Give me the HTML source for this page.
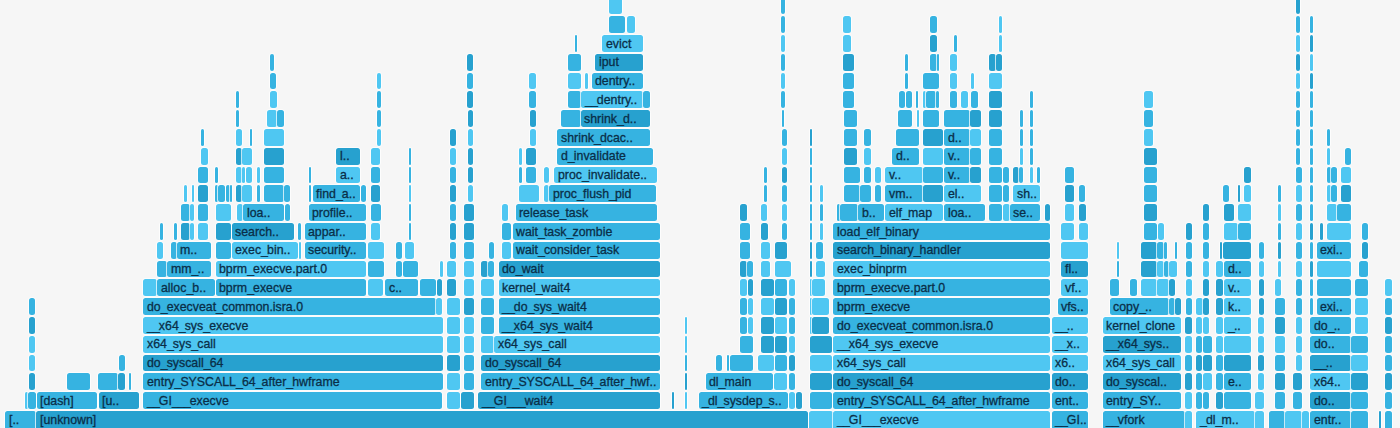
<!DOCTYPE html><html><head><meta charset="utf-8"><style>
html,body{margin:0;padding:0;}body{width:1400px;height:428px;overflow:hidden;background:#f6f6f6;position:relative;font-family:"Liberation Sans",sans-serif;}
.b{position:absolute;height:16.8px;border-radius:2.5px;overflow:hidden;white-space:nowrap;box-sizing:border-box;box-shadow:0 0 0 0.8px rgba(255,255,255,0.9);}
.t{position:absolute;left:3.5px;top:0.5px;line-height:16.8px;font-size:13px;color:#0a2e48;transform:scaleX(0.95);transform-origin:0 0;-webkit-text-stroke:0.3px #0a2e48;}
i{font-style:normal;letter-spacing:-1.0px}.L{background:#4fc7f2}.M{background:#36b3e1}.D{background:#27a1cf}
</style></head><body>
<div class="b M" style="left:5.0px;top:411.0px;width:31.0px;height:20px"><span class="t">[..</span></div>
<div class="b D" style="left:36.0px;top:411.0px;width:772.0px;height:20px"><span class="t">[unknown]</span></div>
<div class="b L" style="left:809.0px;top:411.0px;width:24.0px;height:20px"></div>
<div class="b L" style="left:833.0px;top:411.0px;width:217.0px;height:20px"><span class="t"><i>_</i><i>_</i>GI<i>_</i><i>_</i><i>_</i>execve</span></div>
<div class="b M" style="left:1051.7px;top:411.0px;width:36.3px;height:20px"><span class="t"><i>_</i><i>_</i>GI..</span></div>
<div class="b M" style="left:1102.7px;top:411.0px;width:82.7px;height:20px"><span class="t"><i>_</i><i>_</i>vfork</span></div>
<div class="b L" style="left:1185.4px;top:411.0px;width:6.3px;height:20px"></div>
<div class="b L" style="left:1196.0px;top:411.0px;width:58.6px;height:20px"><span class="t"><i>_</i>dl<i>_</i>m..</span></div>
<div class="b L" style="left:1254.6px;top:411.0px;width:9.4px;height:20px"></div>
<div class="b M" style="left:1268.6px;top:411.0px;width:16.4px;height:20px"></div>
<div class="b L" style="left:1285.0px;top:411.0px;width:17.0px;height:20px"></div>
<div class="b L" style="left:1302.0px;top:411.0px;width:7.0px;height:20px"></div>
<div class="b M" style="left:1310.0px;top:411.0px;width:41.0px;height:20px"><span class="t">entr..</span></div>
<div class="b M" style="left:1351.0px;top:411.0px;width:16.7px;height:20px"></div>
<div class="b D" style="left:1378.8px;top:411.0px;width:2.2px;height:20px"></div>
<div class="b M" style="left:1385.4px;top:411.0px;width:6.6px;height:20px"></div>
<div class="b L" style="left:25.4px;top:392.2px;width:2.6px"></div>
<div class="b M" style="left:28.0px;top:392.2px;width:7.8px"></div>
<div class="b M" style="left:36.6px;top:392.2px;width:60.7px"><span class="t">[dash]</span></div>
<div class="b D" style="left:98.9px;top:392.2px;width:39.7px"><span class="t">[u..</span></div>
<div class="b M" style="left:143.1px;top:392.2px;width:299.4px"><span class="t"><i>_</i><i>_</i>GI<i>_</i><i>_</i><i>_</i>execve</span></div>
<div class="b L" style="left:446.7px;top:392.2px;width:13.1px"></div>
<div class="b D" style="left:460.8px;top:392.2px;width:13.2px"></div>
<div class="b D" style="left:478.0px;top:392.2px;width:182.4px"><span class="t"><i>_</i><i>_</i>GI<i>_</i><i>_</i><i>_</i>wait4</span></div>
<div class="b D" style="left:671.7px;top:392.2px;width:2.6px"></div>
<div class="b L" style="left:684.7px;top:392.2px;width:2.6px"></div>
<div class="b M" style="left:698.8px;top:392.2px;width:89.0px"><span class="t"><i>_</i>dl<i>_</i>sysdep<i>_</i>s..</span></div>
<div class="b L" style="left:789.0px;top:392.2px;width:6.0px"></div>
<div class="b D" style="left:795.6px;top:392.2px;width:6.0px"></div>
<div class="b M" style="left:809.5px;top:392.2px;width:22.2px"></div>
<div class="b M" style="left:833.0px;top:392.2px;width:217.0px"><span class="t">entry<i>_</i>SYSCALL<i>_</i>64<i>_</i>after<i>_</i>hwframe</span></div>
<div class="b M" style="left:1051.7px;top:392.2px;width:36.3px"><span class="t">ent..</span></div>
<div class="b M" style="left:1102.7px;top:392.2px;width:78.3px"><span class="t">entry<i>_</i>SY..</span></div>
<div class="b L" style="left:1185.0px;top:392.2px;width:7.0px"></div>
<div class="b M" style="left:1196.0px;top:392.2px;width:5.8px"></div>
<div class="b M" style="left:1203.0px;top:392.2px;width:6.0px"></div>
<div class="b D" style="left:1216.0px;top:392.2px;width:7.0px"></div>
<div class="b M" style="left:1224.0px;top:392.2px;width:26.7px"></div>
<div class="b L" style="left:1254.6px;top:392.2px;width:9.4px"></div>
<div class="b M" style="left:1275.0px;top:392.2px;width:10.0px"></div>
<div class="b M" style="left:1293.0px;top:392.2px;width:9.0px"></div>
<div class="b D" style="left:1310.0px;top:392.2px;width:41.0px"><span class="t">do..</span></div>
<div class="b M" style="left:1351.0px;top:392.2px;width:16.7px"></div>
<div class="b M" style="left:1385.4px;top:392.2px;width:6.6px"></div>
<div class="b D" style="left:28.8px;top:373.4px;width:6.5px"></div>
<div class="b M" style="left:67.0px;top:373.4px;width:23.2px"></div>
<div class="b M" style="left:97.6px;top:373.4px;width:20.6px"></div>
<div class="b D" style="left:118.2px;top:373.4px;width:6.8px"></div>
<div class="b M" style="left:128.7px;top:373.4px;width:2.6px"></div>
<div class="b M" style="left:143.0px;top:373.4px;width:299.5px"><span class="t">entry<i>_</i>SYSCALL<i>_</i>64<i>_</i>after<i>_</i>hwframe</span></div>
<div class="b L" style="left:447.0px;top:373.4px;width:13.0px"></div>
<div class="b M" style="left:463.7px;top:373.4px;width:10.3px"></div>
<div class="b M" style="left:481.0px;top:373.4px;width:179.4px"><span class="t">entry<i>_</i>SYSCALL<i>_</i>64<i>_</i>after<i>_</i>hwf..</span></div>
<div class="b D" style="left:684.7px;top:373.4px;width:2.6px"></div>
<div class="b M" style="left:705.6px;top:373.4px;width:67.3px"><span class="t">dl<i>_</i>main</span></div>
<div class="b L" style="left:774.0px;top:373.4px;width:13.0px"></div>
<div class="b M" style="left:788.5px;top:373.4px;width:6.1px"></div>
<div class="b D" style="left:809.5px;top:373.4px;width:22.2px"></div>
<div class="b D" style="left:833.0px;top:373.4px;width:217.0px"><span class="t">do<i>_</i>syscall<i>_</i>64</span></div>
<div class="b D" style="left:1051.7px;top:373.4px;width:36.3px"><span class="t">do..</span></div>
<div class="b D" style="left:1102.7px;top:373.4px;width:78.3px"><span class="t">do<i>_</i>syscal..</span></div>
<div class="b D" style="left:1185.4px;top:373.4px;width:6.3px"></div>
<div class="b M" style="left:1196.0px;top:373.4px;width:5.8px"></div>
<div class="b L" style="left:1203.0px;top:373.4px;width:9.0px"></div>
<div class="b M" style="left:1216.0px;top:373.4px;width:7.0px"></div>
<div class="b M" style="left:1224.0px;top:373.4px;width:26.7px"><span class="t">e..</span></div>
<div class="b L" style="left:1258.0px;top:373.4px;width:6.0px"></div>
<div class="b D" style="left:1275.0px;top:373.4px;width:10.0px"></div>
<div class="b D" style="left:1293.0px;top:373.4px;width:9.0px"></div>
<div class="b L" style="left:1310.0px;top:373.4px;width:41.0px"><span class="t">x64..</span></div>
<div class="b D" style="left:1351.0px;top:373.4px;width:16.7px"></div>
<div class="b D" style="left:1385.4px;top:373.4px;width:6.6px"></div>
<div class="b L" style="left:28.8px;top:354.6px;width:6.5px"></div>
<div class="b M" style="left:119.0px;top:354.6px;width:6.0px"></div>
<div class="b D" style="left:143.0px;top:354.6px;width:299.5px"><span class="t">do<i>_</i>syscall<i>_</i>64</span></div>
<div class="b D" style="left:447.0px;top:354.6px;width:13.0px"></div>
<div class="b M" style="left:463.7px;top:354.6px;width:10.3px"></div>
<div class="b D" style="left:481.0px;top:354.6px;width:179.4px"><span class="t">do<i>_</i>syscall<i>_</i>64</span></div>
<div class="b M" style="left:684.7px;top:354.6px;width:2.6px"></div>
<div class="b M" style="left:716.0px;top:354.6px;width:6.4px"></div>
<div class="b M" style="left:726.6px;top:354.6px;width:2.4px"></div>
<div class="b M" style="left:729.7px;top:354.6px;width:23.5px"></div>
<div class="b L" style="left:757.7px;top:354.6px;width:16.3px"></div>
<div class="b M" style="left:774.7px;top:354.6px;width:12.5px"></div>
<div class="b D" style="left:788.5px;top:354.6px;width:6.1px"></div>
<div class="b L" style="left:809.5px;top:354.6px;width:22.2px"></div>
<div class="b L" style="left:833.0px;top:354.6px;width:217.0px"><span class="t">x64<i>_</i>sys<i>_</i>call</span></div>
<div class="b L" style="left:1051.7px;top:354.6px;width:36.3px"><span class="t">x6..</span></div>
<div class="b L" style="left:1102.7px;top:354.6px;width:78.3px"><span class="t">x64<i>_</i>sys<i>_</i>call</span></div>
<div class="b M" style="left:1185.4px;top:354.6px;width:6.3px"></div>
<div class="b D" style="left:1196.0px;top:354.6px;width:5.8px"></div>
<div class="b D" style="left:1203.0px;top:354.6px;width:9.0px"></div>
<div class="b M" style="left:1216.0px;top:354.6px;width:7.0px"></div>
<div class="b D" style="left:1224.0px;top:354.6px;width:26.7px"></div>
<div class="b D" style="left:1258.0px;top:354.6px;width:6.0px"></div>
<div class="b M" style="left:1275.0px;top:354.6px;width:10.0px"></div>
<div class="b L" style="left:1296.4px;top:354.6px;width:5.6px"></div>
<div class="b D" style="left:1310.0px;top:354.6px;width:41.0px"><span class="t"><i>_</i><i>_</i>..</span></div>
<div class="b L" style="left:1351.0px;top:354.6px;width:16.7px"></div>
<div class="b M" style="left:1385.4px;top:354.6px;width:6.6px"></div>
<div class="b L" style="left:28.8px;top:335.8px;width:6.5px"></div>
<div class="b L" style="left:143.0px;top:335.8px;width:299.5px"><span class="t">x64<i>_</i>sys<i>_</i>call</span></div>
<div class="b L" style="left:447.0px;top:335.8px;width:13.0px"></div>
<div class="b L" style="left:463.7px;top:335.8px;width:10.3px"></div>
<div class="b L" style="left:481.0px;top:335.8px;width:13.3px"></div>
<div class="b L" style="left:494.3px;top:335.8px;width:166.1px"><span class="t">x64<i>_</i>sys<i>_</i>call</span></div>
<div class="b L" style="left:684.7px;top:335.8px;width:2.6px"></div>
<div class="b M" style="left:740.0px;top:335.8px;width:13.0px"></div>
<div class="b D" style="left:760.6px;top:335.8px;width:13.4px"></div>
<div class="b D" style="left:774.7px;top:335.8px;width:12.3px"></div>
<div class="b L" style="left:788.5px;top:335.8px;width:6.1px"></div>
<div class="b D" style="left:809.5px;top:335.8px;width:22.2px"></div>
<div class="b L" style="left:833.0px;top:335.8px;width:217.0px"><span class="t"><i>_</i><i>_</i>x64<i>_</i>sys<i>_</i>execve</span></div>
<div class="b L" style="left:1051.7px;top:335.8px;width:36.3px"><span class="t"><i>_</i><i>_</i>x..</span></div>
<div class="b D" style="left:1102.7px;top:335.8px;width:78.3px"><span class="t"><i>_</i><i>_</i>x64<i>_</i>sys..</span></div>
<div class="b L" style="left:1185.4px;top:335.8px;width:6.3px"></div>
<div class="b M" style="left:1196.0px;top:335.8px;width:5.8px"></div>
<div class="b M" style="left:1203.0px;top:335.8px;width:9.0px"></div>
<div class="b L" style="left:1216.0px;top:335.8px;width:7.0px"></div>
<div class="b L" style="left:1224.0px;top:335.8px;width:26.7px"></div>
<div class="b L" style="left:1258.0px;top:335.8px;width:6.0px"></div>
<div class="b L" style="left:1275.0px;top:335.8px;width:10.0px"></div>
<div class="b L" style="left:1296.4px;top:335.8px;width:5.6px"></div>
<div class="b M" style="left:1310.0px;top:335.8px;width:41.0px"><span class="t">do..</span></div>
<div class="b M" style="left:1351.0px;top:335.8px;width:16.7px"></div>
<div class="b M" style="left:1385.4px;top:335.8px;width:6.6px"></div>
<div class="b D" style="left:28.8px;top:317.0px;width:6.5px"></div>
<div class="b L" style="left:143.0px;top:317.0px;width:299.5px"><span class="t"><i>_</i><i>_</i>x64<i>_</i>sys<i>_</i>execve</span></div>
<div class="b L" style="left:447.0px;top:317.0px;width:13.0px"></div>
<div class="b L" style="left:463.7px;top:317.0px;width:10.3px"></div>
<div class="b M" style="left:481.0px;top:317.0px;width:13.3px"></div>
<div class="b M" style="left:498.8px;top:317.0px;width:161.6px"><span class="t"><i>_</i><i>_</i>x64<i>_</i>sys<i>_</i>wait4</span></div>
<div class="b L" style="left:684.7px;top:317.0px;width:2.6px"></div>
<div class="b M" style="left:740.2px;top:317.0px;width:7.3px"></div>
<div class="b L" style="left:747.5px;top:317.0px;width:5.5px"></div>
<div class="b D" style="left:760.6px;top:317.0px;width:13.4px"></div>
<div class="b L" style="left:774.7px;top:317.0px;width:12.3px"></div>
<div class="b M" style="left:788.5px;top:317.0px;width:6.1px"></div>
<div class="b L" style="left:809.5px;top:317.0px;width:2.5px"></div>
<div class="b D" style="left:812.0px;top:317.0px;width:17.0px"></div>
<div class="b M" style="left:833.0px;top:317.0px;width:217.0px"><span class="t">do<i>_</i>execveat<i>_</i>common.isra.0</span></div>
<div class="b L" style="left:1051.7px;top:317.0px;width:36.3px"><span class="t"><i>_</i><i>_</i>..</span></div>
<div class="b L" style="left:1102.7px;top:317.0px;width:78.3px"><span class="t">kernel<i>_</i>clone</span></div>
<div class="b D" style="left:1185.4px;top:317.0px;width:6.3px"></div>
<div class="b L" style="left:1196.0px;top:317.0px;width:5.8px"></div>
<div class="b L" style="left:1203.0px;top:317.0px;width:6.0px"></div>
<div class="b L" style="left:1216.0px;top:317.0px;width:7.0px"></div>
<div class="b L" style="left:1224.0px;top:317.0px;width:26.7px"><span class="t"><i>_</i>..</span></div>
<div class="b L" style="left:1258.0px;top:317.0px;width:6.0px"></div>
<div class="b D" style="left:1275.0px;top:317.0px;width:10.0px"></div>
<div class="b L" style="left:1296.4px;top:317.0px;width:5.6px"></div>
<div class="b M" style="left:1310.0px;top:317.0px;width:41.0px"><span class="t">do<i>_</i>..</span></div>
<div class="b L" style="left:1355.0px;top:317.0px;width:12.7px"></div>
<div class="b D" style="left:1385.4px;top:317.0px;width:6.6px"></div>
<div class="b M" style="left:28.8px;top:298.2px;width:6.5px"></div>
<div class="b M" style="left:143.0px;top:298.2px;width:292.5px"><span class="t">do<i>_</i>execveat<i>_</i>common.isra.0</span></div>
<div class="b L" style="left:436.3px;top:298.2px;width:6.2px"></div>
<div class="b L" style="left:446.7px;top:298.2px;width:13.1px"></div>
<div class="b D" style="left:463.7px;top:298.2px;width:10.3px"></div>
<div class="b M" style="left:481.0px;top:298.2px;width:13.3px"></div>
<div class="b M" style="left:498.8px;top:298.2px;width:161.6px"><span class="t"><i>_</i><i>_</i>do<i>_</i>sys<i>_</i>wait4</span></div>
<div class="b M" style="left:740.2px;top:298.2px;width:7.3px"></div>
<div class="b L" style="left:747.5px;top:298.2px;width:5.5px"></div>
<div class="b L" style="left:760.6px;top:298.2px;width:13.4px"></div>
<div class="b D" style="left:774.7px;top:298.2px;width:12.3px"></div>
<div class="b M" style="left:788.5px;top:298.2px;width:6.1px"></div>
<div class="b L" style="left:809.5px;top:298.2px;width:2.5px"></div>
<div class="b L" style="left:812.0px;top:298.2px;width:17.0px"></div>
<div class="b M" style="left:833.0px;top:298.2px;width:217.0px"><span class="t">bprm<i>_</i>execve</span></div>
<div class="b M" style="left:1057.7px;top:298.2px;width:30.3px"><span class="t">vfs..</span></div>
<div class="b M" style="left:1109.8px;top:298.2px;width:58.9px"><span class="t">copy<i>_</i>..</span></div>
<div class="b M" style="left:1168.7px;top:298.2px;width:6.1px"></div>
<div class="b D" style="left:1174.8px;top:298.2px;width:6.2px"></div>
<div class="b M" style="left:1186.0px;top:298.2px;width:5.7px"></div>
<div class="b L" style="left:1196.0px;top:298.2px;width:7.0px"></div>
<div class="b D" style="left:1203.0px;top:298.2px;width:6.0px"></div>
<div class="b D" style="left:1216.0px;top:298.2px;width:7.0px"></div>
<div class="b L" style="left:1224.0px;top:298.2px;width:26.7px"><span class="t">k..</span></div>
<div class="b D" style="left:1258.6px;top:298.2px;width:5.4px"></div>
<div class="b M" style="left:1275.0px;top:298.2px;width:10.0px"></div>
<div class="b M" style="left:1296.4px;top:298.2px;width:5.6px"></div>
<div class="b M" style="left:1309.6px;top:298.2px;width:3.0px"></div>
<div class="b M" style="left:1316.7px;top:298.2px;width:34.3px"><span class="t">exi..</span></div>
<div class="b L" style="left:1355.0px;top:298.2px;width:12.7px"></div>
<div class="b M" style="left:1385.4px;top:298.2px;width:6.6px"></div>
<div class="b L" style="left:143.0px;top:279.4px;width:14.0px"></div>
<div class="b M" style="left:157.0px;top:279.4px;width:57.5px"><span class="t">alloc<i>_</i>b..</span></div>
<div class="b M" style="left:215.8px;top:279.4px;width:150.2px"><span class="t">bprm<i>_</i>execve</span></div>
<div class="b L" style="left:368.0px;top:279.4px;width:15.0px"></div>
<div class="b M" style="left:385.0px;top:279.4px;width:33.0px"><span class="t">c..</span></div>
<div class="b M" style="left:419.8px;top:279.4px;width:16.5px"></div>
<div class="b D" style="left:436.8px;top:279.4px;width:5.7px"></div>
<div class="b D" style="left:447.0px;top:279.4px;width:9.4px"></div>
<div class="b L" style="left:463.7px;top:279.4px;width:10.3px"></div>
<div class="b L" style="left:481.0px;top:279.4px;width:13.3px"></div>
<div class="b L" style="left:498.8px;top:279.4px;width:161.6px"><span class="t">kernel<i>_</i>wait4</span></div>
<div class="b L" style="left:740.2px;top:279.4px;width:7.3px"></div>
<div class="b D" style="left:747.5px;top:279.4px;width:5.5px"></div>
<div class="b D" style="left:760.6px;top:279.4px;width:13.4px"></div>
<div class="b M" style="left:774.7px;top:279.4px;width:12.3px"></div>
<div class="b L" style="left:788.5px;top:279.4px;width:6.1px"></div>
<div class="b L" style="left:809.5px;top:279.4px;width:2.5px"></div>
<div class="b L" style="left:812.0px;top:279.4px;width:13.0px"></div>
<div class="b M" style="left:833.0px;top:279.4px;width:217.0px"><span class="t">bprm<i>_</i>execve.part.0</span></div>
<div class="b L" style="left:1061.0px;top:279.4px;width:27.0px"><span class="t">vf..</span></div>
<div class="b M" style="left:1109.8px;top:279.4px;width:9.5px"></div>
<div class="b M" style="left:1130.4px;top:279.4px;width:6.6px"></div>
<div class="b L" style="left:1141.0px;top:279.4px;width:15.8px"></div>
<div class="b L" style="left:1156.8px;top:279.4px;width:11.9px"></div>
<div class="b D" style="left:1168.7px;top:279.4px;width:6.1px"></div>
<div class="b L" style="left:1186.0px;top:279.4px;width:5.7px"></div>
<div class="b D" style="left:1203.0px;top:279.4px;width:6.0px"></div>
<div class="b D" style="left:1216.0px;top:279.4px;width:7.0px"></div>
<div class="b L" style="left:1224.0px;top:279.4px;width:26.7px"><span class="t">v..</span></div>
<div class="b D" style="left:1258.6px;top:279.4px;width:5.4px"></div>
<div class="b L" style="left:1275.0px;top:279.4px;width:6.0px"></div>
<div class="b M" style="left:1296.4px;top:279.4px;width:5.6px"></div>
<div class="b M" style="left:1309.6px;top:279.4px;width:3.0px"></div>
<div class="b M" style="left:1316.7px;top:279.4px;width:34.3px"></div>
<div class="b M" style="left:1355.0px;top:279.4px;width:12.7px"></div>
<div class="b L" style="left:1385.4px;top:279.4px;width:6.6px"></div>
<div class="b M" style="left:157.0px;top:260.6px;width:10.4px"></div>
<div class="b M" style="left:167.4px;top:260.6px;width:44.0px"><span class="t">mm<i>_</i>..</span></div>
<div class="b L" style="left:215.8px;top:260.6px;width:150.2px"><span class="t">bprm<i>_</i>execve.part.0</span></div>
<div class="b M" style="left:368.0px;top:260.6px;width:16.0px"></div>
<div class="b M" style="left:395.5px;top:260.6px;width:6.5px"></div>
<div class="b M" style="left:402.8px;top:260.6px;width:15.2px"></div>
<div class="b L" style="left:440.0px;top:260.6px;width:2.5px"></div>
<div class="b L" style="left:447.0px;top:260.6px;width:9.4px"></div>
<div class="b L" style="left:463.7px;top:260.6px;width:10.3px"></div>
<div class="b D" style="left:481.0px;top:260.6px;width:6.8px"></div>
<div class="b M" style="left:487.8px;top:260.6px;width:6.5px"></div>
<div class="b D" style="left:498.8px;top:260.6px;width:161.6px"><span class="t">do<i>_</i>wait</span></div>
<div class="b D" style="left:740.0px;top:260.6px;width:7.0px"></div>
<div class="b M" style="left:747.0px;top:260.6px;width:6.0px"></div>
<div class="b L" style="left:760.6px;top:260.6px;width:9.4px"></div>
<div class="b L" style="left:774.7px;top:260.6px;width:16.3px"></div>
<div class="b D" style="left:809.5px;top:260.6px;width:2.5px"></div>
<div class="b L" style="left:816.0px;top:260.6px;width:9.0px"></div>
<div class="b L" style="left:833.0px;top:260.6px;width:217.0px"><span class="t">exec<i>_</i>binprm</span></div>
<div class="b D" style="left:1061.0px;top:260.6px;width:27.0px"><span class="t">fl..</span></div>
<div class="b M" style="left:1116.7px;top:260.6px;width:2.6px"></div>
<div class="b D" style="left:1141.0px;top:260.6px;width:15.8px"></div>
<div class="b L" style="left:1156.8px;top:260.6px;width:7.2px"></div>
<div class="b M" style="left:1164.0px;top:260.6px;width:5.0px"></div>
<div class="b L" style="left:1169.0px;top:260.6px;width:8.0px"></div>
<div class="b M" style="left:1186.0px;top:260.6px;width:5.7px"></div>
<div class="b L" style="left:1203.0px;top:260.6px;width:6.0px"></div>
<div class="b L" style="left:1216.0px;top:260.6px;width:7.0px"></div>
<div class="b M" style="left:1224.0px;top:260.6px;width:26.7px"><span class="t">d..</span></div>
<div class="b L" style="left:1258.6px;top:260.6px;width:5.4px"></div>
<div class="b L" style="left:1278.4px;top:260.6px;width:2.6px"></div>
<div class="b L" style="left:1296.4px;top:260.6px;width:5.6px"></div>
<div class="b D" style="left:1309.6px;top:260.6px;width:3.0px"></div>
<div class="b L" style="left:1316.7px;top:260.6px;width:34.3px"></div>
<div class="b M" style="left:1359.0px;top:260.6px;width:8.7px"></div>
<div class="b L" style="left:157.0px;top:241.8px;width:5.7px"></div>
<div class="b M" style="left:170.8px;top:241.8px;width:5.8px"></div>
<div class="b M" style="left:176.6px;top:241.8px;width:34.8px"><span class="t">m..</span></div>
<div class="b M" style="left:215.8px;top:241.8px;width:15.7px"></div>
<div class="b L" style="left:231.5px;top:241.8px;width:66.5px"><span class="t">exec<i>_</i>bin..</span></div>
<div class="b L" style="left:298.7px;top:241.8px;width:2.1px"></div>
<div class="b M" style="left:304.7px;top:241.8px;width:61.3px"><span class="t">security..</span></div>
<div class="b L" style="left:368.0px;top:241.8px;width:16.0px"></div>
<div class="b M" style="left:395.5px;top:241.8px;width:6.0px"></div>
<div class="b L" style="left:405.4px;top:241.8px;width:9.1px"></div>
<div class="b M" style="left:450.4px;top:241.8px;width:6.0px"></div>
<div class="b M" style="left:463.7px;top:241.8px;width:10.3px"></div>
<div class="b M" style="left:488.6px;top:241.8px;width:5.7px"></div>
<div class="b L" style="left:502.0px;top:241.8px;width:9.3px"></div>
<div class="b M" style="left:512.6px;top:241.8px;width:147.8px"><span class="t">wait<i>_</i>consider<i>_</i>task</span></div>
<div class="b M" style="left:740.0px;top:241.8px;width:10.0px"></div>
<div class="b L" style="left:760.6px;top:241.8px;width:9.4px"></div>
<div class="b D" style="left:774.7px;top:241.8px;width:12.3px"></div>
<div class="b D" style="left:809.5px;top:241.8px;width:2.5px"></div>
<div class="b M" style="left:816.0px;top:241.8px;width:6.6px"></div>
<div class="b D" style="left:833.0px;top:241.8px;width:217.0px"><span class="t">search<i>_</i>binary<i>_</i>handler</span></div>
<div class="b L" style="left:1061.0px;top:241.8px;width:27.0px"></div>
<div class="b L" style="left:1116.7px;top:241.8px;width:2.6px"></div>
<div class="b D" style="left:1141.0px;top:241.8px;width:15.8px"></div>
<div class="b M" style="left:1156.8px;top:241.8px;width:7.2px"></div>
<div class="b M" style="left:1164.0px;top:241.8px;width:3.0px"></div>
<div class="b M" style="left:1174.8px;top:241.8px;width:2.7px"></div>
<div class="b M" style="left:1186.0px;top:241.8px;width:5.7px"></div>
<div class="b M" style="left:1203.0px;top:241.8px;width:6.0px"></div>
<div class="b D" style="left:1219.7px;top:241.8px;width:2.7px"></div>
<div class="b D" style="left:1223.0px;top:241.8px;width:27.7px"></div>
<div class="b M" style="left:1258.6px;top:241.8px;width:5.4px"></div>
<div class="b D" style="left:1278.4px;top:241.8px;width:2.6px"></div>
<div class="b M" style="left:1296.4px;top:241.8px;width:5.6px"></div>
<div class="b M" style="left:1309.6px;top:241.8px;width:3.0px"></div>
<div class="b M" style="left:1316.7px;top:241.8px;width:34.3px"><span class="t">exi..</span></div>
<div class="b D" style="left:1361.6px;top:241.8px;width:6.1px"></div>
<div class="b M" style="left:160.0px;top:223.0px;width:2.7px"></div>
<div class="b M" style="left:174.0px;top:223.0px;width:2.6px"></div>
<div class="b D" style="left:181.0px;top:223.0px;width:9.4px"></div>
<div class="b L" style="left:190.4px;top:223.0px;width:3.6px"></div>
<div class="b L" style="left:198.3px;top:223.0px;width:9.7px"></div>
<div class="b D" style="left:215.8px;top:223.0px;width:15.7px"></div>
<div class="b D" style="left:231.5px;top:223.0px;width:62.8px"><span class="t">search..</span></div>
<div class="b M" style="left:298.2px;top:223.0px;width:2.6px"></div>
<div class="b M" style="left:304.7px;top:223.0px;width:61.3px"><span class="t">appar..</span></div>
<div class="b L" style="left:370.9px;top:223.0px;width:9.6px"></div>
<div class="b M" style="left:408.5px;top:223.0px;width:2.5px"></div>
<div class="b D" style="left:450.4px;top:223.0px;width:6.0px"></div>
<div class="b D" style="left:463.7px;top:223.0px;width:10.3px"></div>
<div class="b M" style="left:502.0px;top:223.0px;width:9.3px"></div>
<div class="b M" style="left:512.6px;top:223.0px;width:147.8px"><span class="t">wait<i>_</i>task<i>_</i>zombie</span></div>
<div class="b M" style="left:740.0px;top:223.0px;width:10.0px"></div>
<div class="b D" style="left:760.6px;top:223.0px;width:7.0px"></div>
<div class="b M" style="left:781.5px;top:223.0px;width:5.5px"></div>
<div class="b M" style="left:809.5px;top:223.0px;width:2.5px"></div>
<div class="b L" style="left:820.0px;top:223.0px;width:2.6px"></div>
<div class="b M" style="left:833.0px;top:223.0px;width:217.0px"><span class="t">load<i>_</i>elf<i>_</i>binary</span></div>
<div class="b L" style="left:1061.0px;top:223.0px;width:12.6px"></div>
<div class="b L" style="left:1079.0px;top:223.0px;width:9.0px"></div>
<div class="b M" style="left:1144.0px;top:223.0px;width:12.8px"></div>
<div class="b L" style="left:1158.0px;top:223.0px;width:5.5px"></div>
<div class="b D" style="left:1186.0px;top:223.0px;width:5.7px"></div>
<div class="b M" style="left:1203.0px;top:223.0px;width:6.0px"></div>
<div class="b L" style="left:1224.0px;top:223.0px;width:13.5px"></div>
<div class="b M" style="left:1237.5px;top:223.0px;width:13.2px"></div>
<div class="b M" style="left:1278.4px;top:223.0px;width:2.6px"></div>
<div class="b L" style="left:1296.4px;top:223.0px;width:5.6px"></div>
<div class="b D" style="left:1309.6px;top:223.0px;width:3.0px"></div>
<div class="b D" style="left:1320.0px;top:223.0px;width:2.8px"></div>
<div class="b L" style="left:1327.0px;top:223.0px;width:24.0px"></div>
<div class="b M" style="left:1361.6px;top:223.0px;width:6.1px"></div>
<div class="b M" style="left:181.0px;top:204.2px;width:9.4px"></div>
<div class="b L" style="left:190.4px;top:204.2px;width:3.6px"></div>
<div class="b M" style="left:198.3px;top:204.2px;width:9.7px"></div>
<div class="b L" style="left:215.8px;top:204.2px;width:15.7px"></div>
<div class="b L" style="left:236.7px;top:204.2px;width:6.6px"></div>
<div class="b M" style="left:243.3px;top:204.2px;width:40.5px"><span class="t">loa..</span></div>
<div class="b M" style="left:285.0px;top:204.2px;width:5.4px"></div>
<div class="b M" style="left:308.7px;top:204.2px;width:57.3px"><span class="t">profile..</span></div>
<div class="b M" style="left:371.0px;top:204.2px;width:9.5px"></div>
<div class="b M" style="left:408.5px;top:204.2px;width:2.5px"></div>
<div class="b M" style="left:450.4px;top:204.2px;width:6.0px"></div>
<div class="b D" style="left:463.7px;top:204.2px;width:10.3px"></div>
<div class="b L" style="left:502.0px;top:204.2px;width:6.0px"></div>
<div class="b M" style="left:515.8px;top:204.2px;width:141.2px"><span class="t">release<i>_</i>task</span></div>
<div class="b D" style="left:740.0px;top:204.2px;width:6.7px"></div>
<div class="b L" style="left:760.6px;top:204.2px;width:6.4px"></div>
<div class="b L" style="left:781.5px;top:204.2px;width:5.5px"></div>
<div class="b M" style="left:809.5px;top:204.2px;width:2.5px"></div>
<div class="b M" style="left:820.0px;top:204.2px;width:2.6px"></div>
<div class="b M" style="left:837.0px;top:204.2px;width:3.0px"></div>
<div class="b M" style="left:840.0px;top:204.2px;width:18.0px"></div>
<div class="b M" style="left:858.0px;top:204.2px;width:26.0px"><span class="t">b..</span></div>
<div class="b L" style="left:885.3px;top:204.2px;width:57.7px"><span class="t">elf<i>_</i>map</span></div>
<div class="b M" style="left:944.0px;top:204.2px;width:40.7px"><span class="t">loa..</span></div>
<div class="b M" style="left:989.4px;top:204.2px;width:12.2px"></div>
<div class="b L" style="left:1003.0px;top:204.2px;width:6.5px"></div>
<div class="b M" style="left:1009.5px;top:204.2px;width:30.5px"><span class="t">se..</span></div>
<div class="b D" style="left:1044.8px;top:204.2px;width:4.9px"></div>
<div class="b L" style="left:1065.0px;top:204.2px;width:8.6px"></div>
<div class="b D" style="left:1079.0px;top:204.2px;width:6.5px"></div>
<div class="b D" style="left:1144.0px;top:204.2px;width:12.8px"></div>
<div class="b D" style="left:1203.0px;top:204.2px;width:6.0px"></div>
<div class="b D" style="left:1224.0px;top:204.2px;width:9.5px"></div>
<div class="b L" style="left:1237.5px;top:204.2px;width:13.2px"></div>
<div class="b L" style="left:1278.4px;top:204.2px;width:2.6px"></div>
<div class="b M" style="left:1296.4px;top:204.2px;width:5.6px"></div>
<div class="b M" style="left:1309.6px;top:204.2px;width:3.0px"></div>
<div class="b L" style="left:1327.0px;top:204.2px;width:10.0px"></div>
<div class="b M" style="left:1337.0px;top:204.2px;width:14.0px"></div>
<div class="b L" style="left:184.4px;top:185.4px;width:2.6px"></div>
<div class="b L" style="left:191.7px;top:185.4px;width:2.3px"></div>
<div class="b D" style="left:198.3px;top:185.4px;width:9.7px"></div>
<div class="b M" style="left:215.3px;top:185.4px;width:3.1px"></div>
<div class="b M" style="left:218.4px;top:185.4px;width:7.1px"></div>
<div class="b M" style="left:225.5px;top:185.4px;width:4.0px"></div>
<div class="b M" style="left:229.5px;top:185.4px;width:2.5px"></div>
<div class="b D" style="left:236.2px;top:185.4px;width:5.8px"></div>
<div class="b L" style="left:242.0px;top:185.4px;width:10.4px"></div>
<div class="b M" style="left:257.0px;top:185.4px;width:2.5px"></div>
<div class="b M" style="left:263.7px;top:185.4px;width:20.1px"></div>
<div class="b M" style="left:283.8px;top:185.4px;width:6.6px"></div>
<div class="b M" style="left:308.7px;top:185.4px;width:2.6px"></div>
<div class="b M" style="left:312.6px;top:185.4px;width:47.0px"><span class="t">find<i>_</i>a..</span></div>
<div class="b M" style="left:361.0px;top:185.4px;width:5.0px"></div>
<div class="b D" style="left:370.9px;top:185.4px;width:9.6px"></div>
<div class="b L" style="left:408.5px;top:185.4px;width:2.5px"></div>
<div class="b D" style="left:450.4px;top:185.4px;width:6.0px"></div>
<div class="b L" style="left:467.6px;top:185.4px;width:5.8px"></div>
<div class="b L" style="left:519.0px;top:185.4px;width:19.8px"></div>
<div class="b L" style="left:543.5px;top:185.4px;width:5.8px"></div>
<div class="b M" style="left:549.3px;top:185.4px;width:107.2px"><span class="t">proc<i>_</i>flush<i>_</i>pid</span></div>
<div class="b M" style="left:763.7px;top:185.4px;width:3.1px"></div>
<div class="b M" style="left:781.5px;top:185.4px;width:5.7px"></div>
<div class="b M" style="left:809.5px;top:185.4px;width:2.5px"></div>
<div class="b L" style="left:820.0px;top:185.4px;width:2.6px"></div>
<div class="b M" style="left:843.5px;top:185.4px;width:16.5px"></div>
<div class="b M" style="left:860.0px;top:185.4px;width:11.0px"></div>
<div class="b M" style="left:875.0px;top:185.4px;width:6.0px"></div>
<div class="b M" style="left:885.3px;top:185.4px;width:38.0px"><span class="t">vm..</span></div>
<div class="b D" style="left:923.3px;top:185.4px;width:19.7px"></div>
<div class="b L" style="left:944.0px;top:185.4px;width:36.8px"><span class="t">el..</span></div>
<div class="b M" style="left:988.7px;top:185.4px;width:13.0px"></div>
<div class="b M" style="left:1003.0px;top:185.4px;width:6.0px"></div>
<div class="b L" style="left:1013.0px;top:185.4px;width:27.0px"><span class="t">sh..</span></div>
<div class="b D" style="left:1065.0px;top:185.4px;width:9.4px"></div>
<div class="b M" style="left:1079.0px;top:185.4px;width:6.0px"></div>
<div class="b M" style="left:1144.0px;top:185.4px;width:12.8px"></div>
<div class="b M" style="left:1223.4px;top:185.4px;width:6.1px"></div>
<div class="b D" style="left:1237.5px;top:185.4px;width:2.5px"></div>
<div class="b L" style="left:1244.0px;top:185.4px;width:6.7px"></div>
<div class="b M" style="left:1278.4px;top:185.4px;width:2.6px"></div>
<div class="b L" style="left:1296.4px;top:185.4px;width:5.6px"></div>
<div class="b M" style="left:1309.6px;top:185.4px;width:3.0px"></div>
<div class="b L" style="left:1327.0px;top:185.4px;width:4.0px"></div>
<div class="b M" style="left:1331.0px;top:185.4px;width:5.6px"></div>
<div class="b D" style="left:1341.3px;top:185.4px;width:9.7px"></div>
<div class="b M" style="left:198.3px;top:166.6px;width:9.7px"></div>
<div class="b M" style="left:215.3px;top:166.6px;width:2.6px"></div>
<div class="b L" style="left:236.2px;top:166.6px;width:5.8px"></div>
<div class="b L" style="left:242.0px;top:166.6px;width:2.6px"></div>
<div class="b L" style="left:245.9px;top:166.6px;width:6.5px"></div>
<div class="b L" style="left:257.0px;top:166.6px;width:2.5px"></div>
<div class="b M" style="left:263.7px;top:166.6px;width:20.1px"></div>
<div class="b M" style="left:308.7px;top:166.6px;width:2.6px"></div>
<div class="b L" style="left:336.0px;top:166.6px;width:23.6px"><span class="t">a..</span></div>
<div class="b M" style="left:370.9px;top:166.6px;width:9.6px"></div>
<div class="b M" style="left:408.5px;top:166.6px;width:2.5px"></div>
<div class="b M" style="left:450.4px;top:166.6px;width:6.0px"></div>
<div class="b D" style="left:467.6px;top:166.6px;width:5.8px"></div>
<div class="b M" style="left:519.0px;top:166.6px;width:2.8px"></div>
<div class="b M" style="left:526.2px;top:166.6px;width:9.5px"></div>
<div class="b L" style="left:543.5px;top:166.6px;width:5.8px"></div>
<div class="b L" style="left:554.0px;top:166.6px;width:102.5px"><span class="t">proc<i>_</i>invalidate..</span></div>
<div class="b M" style="left:763.7px;top:166.6px;width:3.1px"></div>
<div class="b D" style="left:781.5px;top:166.6px;width:5.7px"></div>
<div class="b M" style="left:809.5px;top:166.6px;width:2.5px"></div>
<div class="b M" style="left:843.5px;top:166.6px;width:16.5px"></div>
<div class="b M" style="left:864.4px;top:166.6px;width:6.6px"></div>
<div class="b L" style="left:875.0px;top:166.6px;width:6.0px"></div>
<div class="b L" style="left:885.3px;top:166.6px;width:38.0px"><span class="t">v..</span></div>
<div class="b M" style="left:923.3px;top:166.6px;width:19.7px"></div>
<div class="b M" style="left:944.0px;top:166.6px;width:26.4px"><span class="t">v..</span></div>
<div class="b D" style="left:970.4px;top:166.6px;width:10.4px"></div>
<div class="b M" style="left:988.7px;top:166.6px;width:13.0px"></div>
<div class="b M" style="left:1003.0px;top:166.6px;width:6.0px"></div>
<div class="b D" style="left:1013.0px;top:166.6px;width:6.0px"></div>
<div class="b M" style="left:1019.0px;top:166.6px;width:4.0px"></div>
<div class="b L" style="left:1030.0px;top:166.6px;width:2.6px"></div>
<div class="b M" style="left:1037.0px;top:166.6px;width:3.0px"></div>
<div class="b M" style="left:1065.0px;top:166.6px;width:9.4px"></div>
<div class="b M" style="left:1144.0px;top:166.6px;width:12.8px"></div>
<div class="b D" style="left:1244.0px;top:166.6px;width:6.7px"></div>
<div class="b M" style="left:1296.4px;top:166.6px;width:5.6px"></div>
<div class="b M" style="left:1309.6px;top:166.6px;width:3.0px"></div>
<div class="b M" style="left:1327.0px;top:166.6px;width:4.0px"></div>
<div class="b M" style="left:1331.0px;top:166.6px;width:5.6px"></div>
<div class="b L" style="left:1341.3px;top:166.6px;width:9.7px"></div>
<div class="b L" style="left:201.4px;top:147.8px;width:6.6px"></div>
<div class="b D" style="left:236.2px;top:147.8px;width:5.8px"></div>
<div class="b L" style="left:242.0px;top:147.8px;width:10.4px"></div>
<div class="b D" style="left:263.7px;top:147.8px;width:20.1px"></div>
<div class="b D" style="left:336.0px;top:147.8px;width:23.6px"><span class="t">l..</span></div>
<div class="b L" style="left:370.9px;top:147.8px;width:9.6px"></div>
<div class="b M" style="left:408.5px;top:147.8px;width:2.5px"></div>
<div class="b L" style="left:450.4px;top:147.8px;width:6.0px"></div>
<div class="b D" style="left:467.6px;top:147.8px;width:5.8px"></div>
<div class="b L" style="left:519.0px;top:147.8px;width:2.8px"></div>
<div class="b D" style="left:526.2px;top:147.8px;width:9.5px"></div>
<div class="b M" style="left:557.0px;top:147.8px;width:95.6px"><span class="t">d<i>_</i>invalidate</span></div>
<div class="b L" style="left:781.5px;top:147.8px;width:5.7px"></div>
<div class="b M" style="left:809.5px;top:147.8px;width:2.5px"></div>
<div class="b D" style="left:843.5px;top:147.8px;width:13.1px"></div>
<div class="b L" style="left:864.4px;top:147.8px;width:6.6px"></div>
<div class="b M" style="left:892.0px;top:147.8px;width:27.3px"><span class="t">d..</span></div>
<div class="b L" style="left:923.3px;top:147.8px;width:19.7px"></div>
<div class="b M" style="left:944.0px;top:147.8px;width:26.4px"><span class="t">v..</span></div>
<div class="b M" style="left:970.4px;top:147.8px;width:10.4px"></div>
<div class="b M" style="left:988.7px;top:147.8px;width:13.0px"></div>
<div class="b L" style="left:1020.0px;top:147.8px;width:3.0px"></div>
<div class="b M" style="left:1030.0px;top:147.8px;width:3.0px"></div>
<div class="b D" style="left:1144.0px;top:147.8px;width:12.8px"></div>
<div class="b M" style="left:1296.0px;top:147.8px;width:3.6px"></div>
<div class="b M" style="left:1309.6px;top:147.8px;width:3.0px"></div>
<div class="b L" style="left:1327.0px;top:147.8px;width:3.0px"></div>
<div class="b M" style="left:1344.5px;top:147.8px;width:6.5px"></div>
<div class="b M" style="left:201.4px;top:129.0px;width:2.6px"></div>
<div class="b L" style="left:236.2px;top:129.0px;width:5.8px"></div>
<div class="b M" style="left:249.8px;top:129.0px;width:2.6px"></div>
<div class="b L" style="left:263.7px;top:129.0px;width:20.1px"></div>
<div class="b L" style="left:377.2px;top:129.0px;width:3.8px"></div>
<div class="b D" style="left:450.4px;top:129.0px;width:6.0px"></div>
<div class="b L" style="left:467.6px;top:129.0px;width:5.8px"></div>
<div class="b L" style="left:529.6px;top:129.0px;width:6.1px"></div>
<div class="b M" style="left:557.0px;top:129.0px;width:93.0px"><span class="t">shrink<i>_</i>dcac..</span></div>
<div class="b M" style="left:781.5px;top:129.0px;width:5.7px"></div>
<div class="b D" style="left:809.5px;top:129.0px;width:2.5px"></div>
<div class="b M" style="left:843.5px;top:129.0px;width:13.1px"></div>
<div class="b M" style="left:864.4px;top:129.0px;width:6.6px"></div>
<div class="b M" style="left:895.8px;top:129.0px;width:23.5px"></div>
<div class="b D" style="left:923.3px;top:129.0px;width:19.7px"></div>
<div class="b M" style="left:944.0px;top:129.0px;width:26.4px"><span class="t">d..</span></div>
<div class="b L" style="left:970.4px;top:129.0px;width:10.4px"></div>
<div class="b M" style="left:988.7px;top:129.0px;width:13.0px"></div>
<div class="b M" style="left:1020.0px;top:129.0px;width:3.0px"></div>
<div class="b M" style="left:1030.0px;top:129.0px;width:3.0px"></div>
<div class="b L" style="left:1144.0px;top:129.0px;width:9.4px"></div>
<div class="b M" style="left:1296.0px;top:129.0px;width:3.6px"></div>
<div class="b M" style="left:1309.6px;top:129.0px;width:3.0px"></div>
<div class="b M" style="left:1327.0px;top:129.0px;width:3.0px"></div>
<div class="b M" style="left:236.2px;top:110.2px;width:2.4px"></div>
<div class="b L" style="left:266.8px;top:110.2px;width:9.9px"></div>
<div class="b M" style="left:276.7px;top:110.2px;width:7.1px"></div>
<div class="b M" style="left:377.2px;top:110.2px;width:3.8px"></div>
<div class="b D" style="left:467.6px;top:110.2px;width:5.8px"></div>
<div class="b D" style="left:529.6px;top:110.2px;width:6.1px"></div>
<div class="b M" style="left:561.0px;top:110.2px;width:19.7px"></div>
<div class="b D" style="left:580.7px;top:110.2px;width:69.3px"><span class="t">shrink<i>_</i>d..</span></div>
<div class="b M" style="left:781.5px;top:110.2px;width:2.5px"></div>
<div class="b M" style="left:843.5px;top:110.2px;width:13.1px"></div>
<div class="b M" style="left:898.4px;top:110.2px;width:13.9px"></div>
<div class="b L" style="left:916.7px;top:110.2px;width:1.9px"></div>
<div class="b M" style="left:923.3px;top:110.2px;width:15.7px"></div>
<div class="b M" style="left:944.0px;top:110.2px;width:26.4px"></div>
<div class="b D" style="left:970.4px;top:110.2px;width:10.4px"></div>
<div class="b D" style="left:988.7px;top:110.2px;width:13.0px"></div>
<div class="b M" style="left:1020.0px;top:110.2px;width:3.0px"></div>
<div class="b M" style="left:1030.0px;top:110.2px;width:3.0px"></div>
<div class="b M" style="left:1144.0px;top:110.2px;width:9.4px"></div>
<div class="b M" style="left:1296.0px;top:110.2px;width:3.6px"></div>
<div class="b M" style="left:1309.6px;top:110.2px;width:3.0px"></div>
<div class="b M" style="left:236.2px;top:91.4px;width:2.4px"></div>
<div class="b L" style="left:270.0px;top:91.4px;width:6.5px"></div>
<div class="b M" style="left:377.2px;top:91.4px;width:3.8px"></div>
<div class="b D" style="left:467.4px;top:91.4px;width:6.0px"></div>
<div class="b M" style="left:529.3px;top:91.4px;width:6.7px"></div>
<div class="b M" style="left:567.5px;top:91.4px;width:13.5px"></div>
<div class="b L" style="left:581.0px;top:91.4px;width:62.4px"><span class="t"><i>_</i><i>_</i>dentry..</span></div>
<div class="b M" style="left:643.4px;top:91.4px;width:6.2px"></div>
<div class="b M" style="left:781.2px;top:91.4px;width:3.4px"></div>
<div class="b M" style="left:843.0px;top:91.4px;width:10.6px"></div>
<div class="b M" style="left:898.9px;top:91.4px;width:6.6px"></div>
<div class="b M" style="left:905.5px;top:91.4px;width:6.5px"></div>
<div class="b M" style="left:915.9px;top:91.4px;width:2.6px"></div>
<div class="b L" style="left:923.2px;top:91.4px;width:2.8px"></div>
<div class="b M" style="left:926.0px;top:91.4px;width:10.0px"></div>
<div class="b M" style="left:936.0px;top:91.4px;width:3.4px"></div>
<div class="b M" style="left:949.9px;top:91.4px;width:7.3px"></div>
<div class="b L" style="left:960.8px;top:91.4px;width:7.4px"></div>
<div class="b M" style="left:971.3px;top:91.4px;width:6.8px"></div>
<div class="b D" style="left:988.6px;top:91.4px;width:13.1px"></div>
<div class="b M" style="left:1030.4px;top:91.4px;width:2.6px"></div>
<div class="b L" style="left:1144.0px;top:91.4px;width:9.4px"></div>
<div class="b M" style="left:1296.0px;top:91.4px;width:3.6px"></div>
<div class="b M" style="left:1309.6px;top:91.4px;width:3.0px"></div>
<div class="b M" style="left:269.9px;top:72.6px;width:6.5px"></div>
<div class="b L" style="left:377.2px;top:72.6px;width:3.8px"></div>
<div class="b M" style="left:467.4px;top:72.6px;width:6.0px"></div>
<div class="b L" style="left:529.3px;top:72.6px;width:6.7px"></div>
<div class="b L" style="left:567.5px;top:72.6px;width:13.5px"></div>
<div class="b L" style="left:585.0px;top:72.6px;width:2.6px"></div>
<div class="b M" style="left:591.6px;top:72.6px;width:51.0px"><span class="t">dentry..</span></div>
<div class="b L" style="left:781.2px;top:72.6px;width:3.4px"></div>
<div class="b M" style="left:843.0px;top:72.6px;width:10.6px"></div>
<div class="b M" style="left:905.4px;top:72.6px;width:3.1px"></div>
<div class="b M" style="left:923.2px;top:72.6px;width:16.2px"></div>
<div class="b L" style="left:949.9px;top:72.6px;width:7.3px"></div>
<div class="b L" style="left:971.3px;top:72.6px;width:2.7px"></div>
<div class="b L" style="left:988.6px;top:72.6px;width:13.1px"></div>
<div class="b L" style="left:1296.0px;top:72.6px;width:3.6px"></div>
<div class="b D" style="left:1309.6px;top:72.6px;width:3.0px"></div>
<div class="b M" style="left:270.4px;top:53.8px;width:3.4px"></div>
<div class="b D" style="left:467.4px;top:53.8px;width:6.0px"></div>
<div class="b M" style="left:567.5px;top:53.8px;width:13.1px"></div>
<div class="b D" style="left:595.0px;top:53.8px;width:47.6px"><span class="t">iput</span></div>
<div class="b M" style="left:781.2px;top:53.8px;width:3.4px"></div>
<div class="b D" style="left:843.0px;top:53.8px;width:10.6px"></div>
<div class="b M" style="left:905.4px;top:53.8px;width:3.1px"></div>
<div class="b M" style="left:930.0px;top:53.8px;width:6.8px"></div>
<div class="b M" style="left:936.8px;top:53.8px;width:2.6px"></div>
<div class="b L" style="left:949.9px;top:53.8px;width:7.3px"></div>
<div class="b D" style="left:988.6px;top:53.8px;width:7.0px"></div>
<div class="b D" style="left:995.6px;top:53.8px;width:6.1px"></div>
<div class="b D" style="left:1296.0px;top:53.8px;width:3.6px"></div>
<div class="b L" style="left:1309.6px;top:53.8px;width:3.0px"></div>
<div class="b M" style="left:574.5px;top:35.0px;width:2.5px"></div>
<div class="b L" style="left:602.0px;top:35.0px;width:40.6px"><span class="t">evict</span></div>
<div class="b L" style="left:781.2px;top:35.0px;width:3.4px"></div>
<div class="b L" style="left:843.0px;top:35.0px;width:7.5px"></div>
<div class="b D" style="left:930.0px;top:35.0px;width:6.8px"></div>
<div class="b M" style="left:953.8px;top:35.0px;width:3.4px"></div>
<div class="b L" style="left:999.0px;top:35.0px;width:2.7px"></div>
<div class="b L" style="left:1296.0px;top:35.0px;width:3.6px"></div>
<div class="b D" style="left:1309.6px;top:35.0px;width:3.0px"></div>
<div class="b M" style="left:609.3px;top:16.2px;width:15.7px"></div>
<div class="b L" style="left:626.9px;top:16.2px;width:8.6px"></div>
<div class="b M" style="left:781.2px;top:16.2px;width:3.4px"></div>
<div class="b L" style="left:843.0px;top:16.2px;width:7.5px"></div>
<div class="b M" style="left:930.0px;top:16.2px;width:6.8px"></div>
<div class="b L" style="left:999.0px;top:16.2px;width:2.7px"></div>
<div class="b M" style="left:1296.0px;top:16.2px;width:3.6px"></div>
<div class="b M" style="left:1309.6px;top:16.2px;width:3.0px"></div>
<div class="b L" style="left:609.3px;top:-2.6px;width:12.3px"></div>
<div class="b M" style="left:781.2px;top:-2.6px;width:3.4px"></div>
<div class="b D" style="left:1296.0px;top:-2.6px;width:3.6px"></div>
</body></html>
